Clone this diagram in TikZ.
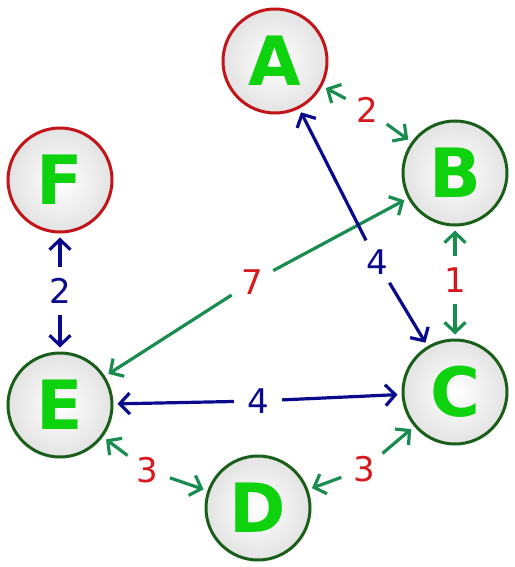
\documentclass[tikz,border=0pt]{standalone}
\usepackage{fontspec}
\setmainfont{DejaVu Sans}
\usetikzlibrary{arrows.meta}
\definecolor{edgegreen}{RGB}{25,140,80}
\definecolor{edgeblue}{RGB}{10,10,140}
\definecolor{weightred}{RGB}{215,25,30}
\definecolor{ringgreen}{RGB}{25,95,25}
\definecolor{ringred}{RGB}{195,20,25}
\definecolor{lettergreen}{RGB}{15,210,15}

\begin{document}
\begin{tikzpicture}[x=1pt, y=-1pt,
    ball/.style={circle, minimum size=104pt, inner sep=0pt, line width=3pt,
                 inner color=white, outer color=black!11,
                 text=lettergreen, font=\fontsize{68}{68}\selectfont\bfseries},
    greenball/.style={ball, draw=ringgreen},
    redball/.style={ball, draw=ringred},
    weight/.style={circle, minimum size=48pt, inner sep=0pt, font=\fontsize{34}{34}\selectfont},
    link/.style={line width=3.2pt, -{Straight Barb[length=10pt,width=21pt]}, shorten >=4pt},
    greenlink/.style={link, draw=edgegreen},
    bluelink/.style={link, draw=edgeblue}
]
    \useasboundingbox (0,0) rectangle (514,567);

    % Vertices
    \node[redball] (A) at (275,61) {A};
    \node[greenball] (B) at (455,173) {B};
    \node[greenball] (C) at (455,392) {C};
    \node[greenball] (D) at (258,508) {D};
    \node[greenball] (E) at (60,405) {E};
    \node[redball] (F) at (60,180) {F};

    % Weights
    \node[weight, text=weightred] (wAB) at (367,110) {2};
    \node[weight, text=weightred] (wBC) at (455,280) {1};
    \node[weight, text=weightred] (wBE) at (252,282) {7};
    \node[weight, text=edgeblue] (wAC) at (377,262) {4};
    \node[weight, text=edgeblue] (wEC) at (258,401) {4};
    \node[weight, text=edgeblue] (wFE) at (60,291) {2};
    \node[weight, text=weightred] (wED) at (147,470) {3};
    \node[weight, text=weightred] (wDC) at (364,469) {3};

    % Edges, each drawn from its weight out to both ends
    \draw[greenlink] (wAB) -- (A);
    \draw[greenlink] (wAB) -- (B);
    \draw[greenlink] (wBC) -- (B);
    \draw[greenlink] (wBC) -- (C);
    \draw[greenlink] (wBE) -- (B);
    \draw[greenlink] (wBE) -- (E);
    \draw[bluelink] (wAC) -- (A);
    \draw[bluelink] (wAC) -- (C);
    \draw[bluelink] (wEC) -- (E);
    \draw[bluelink] (wEC) -- (C);
    \draw[bluelink] (wFE) -- (F);
    \draw[bluelink] (wFE) -- (E);
    \draw[greenlink] (wED) -- (E);
    \draw[greenlink] (wED) -- (D);
    \draw[greenlink] (wDC) -- (D);
    \draw[greenlink] (wDC) -- (C);
\end{tikzpicture}
\end{document}
